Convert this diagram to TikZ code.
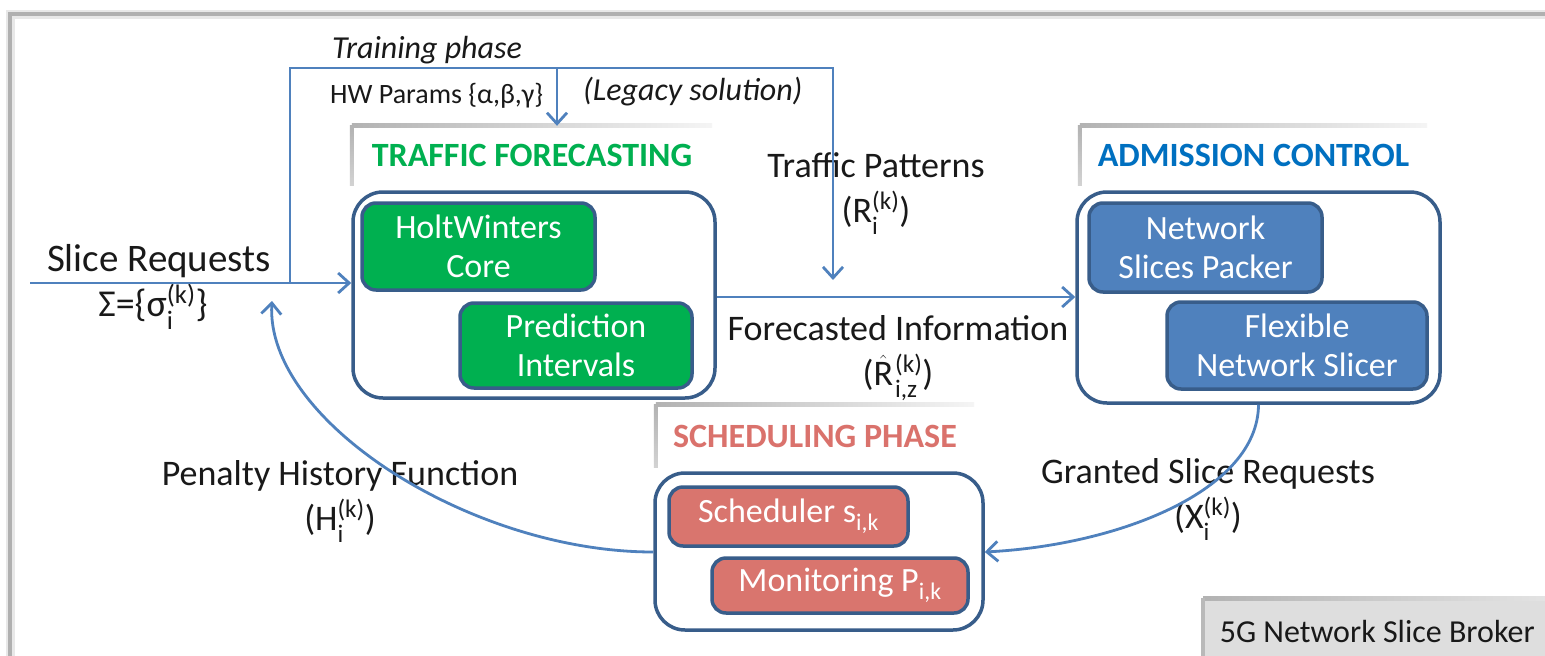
\documentclass[tikz,border=0pt]{standalone}
\usepackage{fontspec}
\setmainfont{Carlito}
\usepackage{amsmath}
\usetikzlibrary{arrows.meta}
\definecolor{lnblue}{RGB}{79,129,189}
\definecolor{bdblue}{RGB}{56,93,138}
\definecolor{gfill}{RGB}{0,176,80}
\definecolor{bfill}{RGB}{79,129,189}
\definecolor{rfill}{RGB}{217,117,110}
\definecolor{tgreen}{RGB}{0,176,80}
\definecolor{tblue}{RGB}{0,112,192}
\definecolor{tred}{RGB}{218,114,108}
\definecolor{txt}{RGB}{25,25,25}
\definecolor{boxgray}{RGB}{222,222,222}
\newcommand\SubSup[2]{\ensuremath{{}_{\text{#1}}^{\text{#2}}}}
\newcommand\TwoLines[2]{\begin{tabular}[t]{@{}c@{}}#1\\#2\end{tabular}}
\begin{document}
\begin{tikzpicture}[x=1pt,y=-1pt,
  container/.style={draw=bdblue, line width=3.5pt, rounded corners=30pt, fill=white, inner sep=0pt},
  inbox/.style={draw=bdblue, line width=3.5pt, rounded corners=14pt, text=white, align=center,
                font=\fontsize{34}{39}\selectfont, inner sep=0pt},
  titlebox/.style={fill=white, inner sep=0pt, font=\fontsize{34}{40}\selectfont\bfseries},
  lbl/.style={text=txt, inner sep=0pt, font=\fontsize{36}{45}\selectfont},
  conn/.style={draw=lnblue, line width=2.8pt},
  arr/.style={-{Straight Barb[length=11pt,width=20pt,line width=2.8pt]}},
]
\useasboundingbox (0,0) rectangle (1545,656);
\fill[white] (0,0) rectangle (1545,656);
% outer frame shadow
\draw[line width=9pt, gray!18] (10,660) -- (10,14) -- (1550,14);
\draw[line width=3.5pt, gray!62] (10,660) -- (10,14) -- (1550,14);

% title boxes
\node[titlebox, minimum width=360pt, minimum height=59pt, text=tgreen] (tft) at (532,155.5) {TRAFFIC FORECASTING};
\node[titlebox, minimum width=347pt, minimum height=59pt, text=tblue] (act) at (1253.5,155.5) {ADMISSION CONTROL};
\node[titlebox, minimum width=318pt, minimum height=62pt, text=tred] (sct) at (815,436) {SCHEDULING PHASE};
\foreach \t in {tft,act,sct}{
  \shade[left color=gray!60, right color=gray!8] ([yshift=2pt]\t.north west) rectangle ([yshift=-2pt]\t.north east);
  \shade[top color=gray!60, bottom color=gray!35] ([xshift=-2pt]\t.north west) rectangle ([xshift=2pt]\t.south west);
}

% containers
\node[container, minimum width=362pt, minimum height=206pt] (tfc) at (534,295) {};
\node[container, minimum width=363pt, minimum height=211pt] (acc) at (1258.5,297.5) {};
\node[container, minimum width=328pt, minimum height=157pt] (scc) at (819,551.5) {};

% inner boxes
\node[inbox, fill=gfill, minimum width=233pt, minimum height=87pt] (hw) at (478.5,246.5) {HoltWinters\\Core};
\node[inbox, fill=gfill, minimum width=232pt, minimum height=85pt] (pi) at (576,345.5) {Prediction\\Intervals};
\node[inbox, fill=bfill, minimum width=233pt, minimum height=89pt] (nsp) at (1205.5,247.5) {Network\\Slices Packer};
\node[inbox, fill=bfill, minimum width=260pt, minimum height=87pt] (fns) at (1297,345.5) {Flexible\\Network Slicer};
\node[inbox, fill=rfill, minimum width=239pt, minimum height=59pt] (sch) at (788.5,516.5) {Scheduler s\textsubscript{i,k}};
\node[inbox, fill=rfill, minimum width=256pt, minimum height=55pt] (mon) at (840,585.5) {Monitoring P\textsubscript{i,k}};

% broker box
\node[fill=boxgray, minimum width=360pt, minimum height=66pt, inner sep=0pt, anchor=north west,
      font=\fontsize{32}{38}\selectfont, text=txt] (brk) at (1203,598) {\hspace*{-12pt}5G Network Slice Broker};
\shade[left color=gray!60, right color=gray!20] ([yshift=2pt]brk.north west) rectangle ([yshift=-2pt]brk.north east);
\fill[gray!55] ([xshift=-2pt]brk.north west) rectangle ([xshift=2pt]brk.south west);

% labels
\node[lbl, anchor=base, font=\fontsize{32}{38}\selectfont\itshape] (trn) at (427,58) {Training phase};
\node[lbl, anchor=base west, font=\fontsize{28}{34}\selectfont] (hwp) at (330,103) {HW Params \{α,β,γ\}};
\node[lbl, anchor=base west, font=\fontsize{32}{38}\selectfont\itshape] (leg) at (583,100) {(Legacy solution)};
\node[lbl, anchor=base, font=\fontsize{39}{45}\selectfont] (slr) at (159,271) {Slice Requests};
\node[lbl, anchor=base, font=\fontsize{38}{45}\selectfont] (sig) at (153,316) {Σ=\{σ\SubSup{i}{(k)}\}};
\node[lbl, anchor=base] (tpl) at (876,177) {\TwoLines{Traffic Patterns}{(R\SubSup{i}{(k)})}};
\node[lbl, anchor=base] (fil) at (898,340) {\TwoLines{Forecasted Information}{(\ensuremath{\hat{\text{R}}}\kern2pt\SubSup{i,z}{(k)})}};
\node[lbl, anchor=base] (phl) at (340,485) {\TwoLines{Penalty History Function}{(H\SubSup{i}{(k)})}};
\node[lbl, anchor=base] (gsl) at (1208,483) {\TwoLines{Granted Slice Requests}{(X\SubSup{i}{(k)})}};

% connectors
\coordinate (src) at (30,283);
\coordinate (jn) at (290,283);
\coordinate (topR) at (833,68);
\coordinate (tpEnd) at (833,280);
\coordinate (hwtap) at (557,68);
\coordinate (pend) at (272,301);
\draw[conn, arr] (src) -- (src -| tfc.west);
\draw[conn, arr] (jn) |- (topR) -- (tpEnd);
\draw[conn, arr] (hwtap) -- (hwtap |- tft.north);
\draw[conn, arr] (tfc.east |- 0,297) -- (acc.west |- 0,297);
\draw[conn, arr] (acc.south) .. controls (1258,490) and (1120,545) .. (scc.east |- 0,552);
\draw[conn, arr] (scc.west |- 0,552) .. controls (470,552) and (265,420) .. (pend);
\end{tikzpicture}
\end{document}
